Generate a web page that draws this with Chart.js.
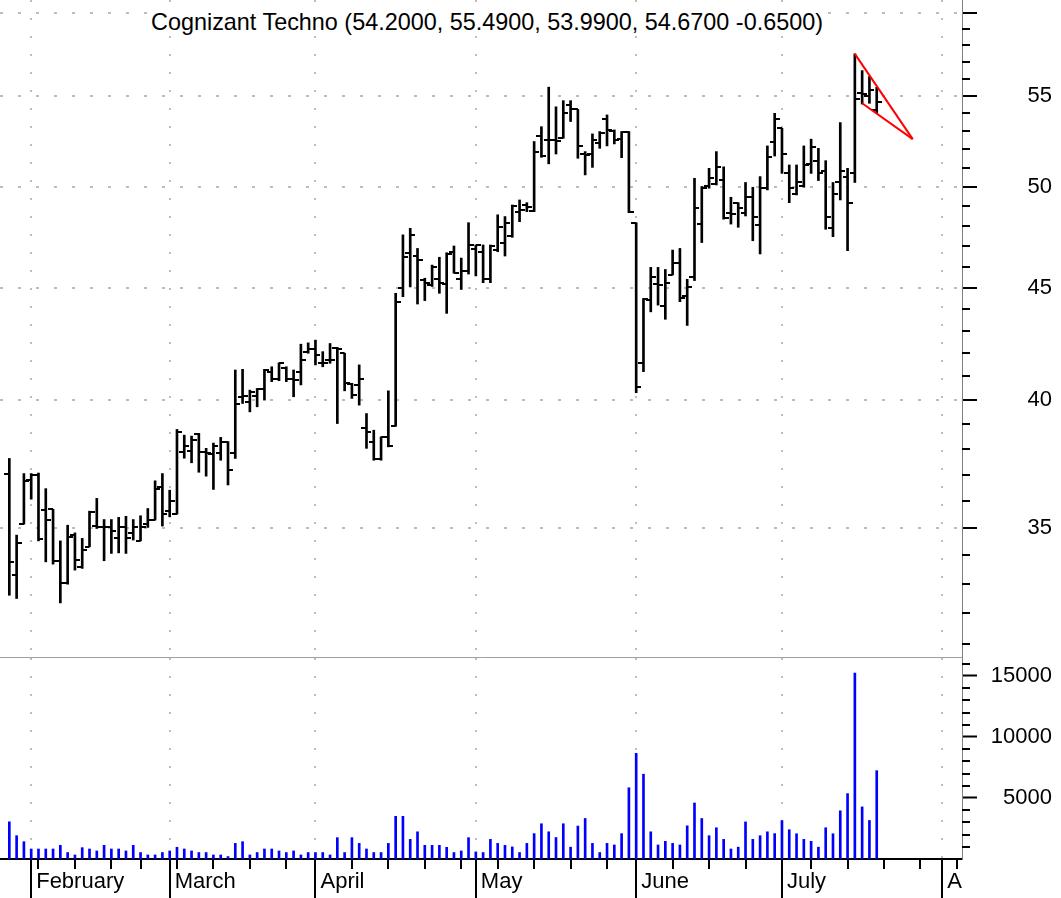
<!DOCTYPE html>
<html>
<head>
<meta charset="utf-8">
<script src="https://cdn.jsdelivr.net/npm/chart.js@4.4.0/dist/chart.umd.min.js"></script>
<style>
  body { margin: 0; background: #fff; }
  #wrap { position: relative; width: 1061px; height: 898px; overflow: hidden; }
  canvas { position: absolute; left: 0; }
  #price { top: 0; }
  #vol { top: 658px; }
  #title { position: absolute; left: 0; width: 974px; top: 7px; text-align: center;
           font: 23.4px 'Liberation Sans', Arial, sans-serif; line-height: 30px; color: #000; }
  #title span { background: #fff; padding: 0 3px; }
</style>
</head>
<body>
<div id="wrap">
  <canvas id="price" width="1061" height="658"></canvas>
  <canvas id="vol" width="1061" height="240"></canvas>
  <div id="title"><span>Cognizant Techno (54.2000, 55.4900, 53.9900, 54.6700 -0.6500)</span></div>
</div>
<script>
// daily bars, index 0 = 29 Jan 2002 ... index 119 = 19 Jul 2002
var open = [37.04, 33.30, 35.13, 36.79, 36.98, 35.65, 35.68, 33.81, 33.02, 34.73,
  33.60, 34.31, 35.06, 35.01, 35.01, 34.61, 35.01, 34.79, 34.52, 35.13,
  35.30, 36.52, 35.62, 35.50, 37.89, 37.92, 38.60, 37.89, 37.80, 37.85,
  38.28, 37.85, 40.11, 39.93, 40.17, 40.45, 41.21, 40.88, 41.36, 40.88,
  41.21, 42.08, 42.18, 41.57, 41.71, 42.25, 42.01, 40.68, 40.64, 38.83,
  38.29, 37.59, 38.49, 38.92, 44.96, 46.67, 46.50, 45.36, 45.13, 45.39,
  45.17, 46.72, 45.39, 45.80, 46.86, 46.72, 45.39, 46.80, 47.13, 47.49,
  48.70, 49.06, 48.77, 52.73, 52.52, 52.52, 52.61, 54.47, 54.22, 51.75,
  51.75, 52.37, 53.67, 53.03, 52.56, 52.93, 48.16, 41.57, 44.42, 45.17,
  44.14, 45.60, 46.18, 44.60, 45.49, 48.09, 50.02, 50.15, 50.36, 48.67,
  49.15, 48.64, 49.46, 48.04, 49.93, 52.43, 53.16, 50.75, 49.63, 50.05,
  51.22, 51.39, 50.85, 47.88, 50.23, 50.50, 50.75, 55.14, 54.99, 54.20];

var high = [37.63, 34.73, 37.04, 37.04, 37.06, 36.46, 35.68, 34.52, 35.09, 34.81,
  34.61, 35.61, 36.09, 35.30, 35.30, 35.38, 35.42, 35.30, 35.44, 35.71,
  36.76, 37.04, 36.40, 38.79, 38.56, 38.52, 38.63, 38.03, 38.24, 38.47,
  38.30, 41.28, 41.31, 40.42, 40.49, 41.31, 41.42, 41.59, 41.42, 41.28,
  42.41, 42.47, 42.59, 42.08, 42.44, 42.27, 42.01, 40.71, 41.50, 39.44,
  38.76, 38.49, 40.39, 44.73, 47.55, 47.88, 46.88, 45.44, 46.07, 46.45,
  46.67, 47.00, 46.41, 48.16, 47.05, 47.05, 47.05, 48.56, 48.47, 49.06,
  49.32, 49.18, 52.43, 53.25, 55.50, 54.37, 54.72, 54.72, 54.22, 51.88,
  52.85, 52.98, 53.91, 53.07, 52.98, 52.98, 48.16, 44.49, 45.96, 45.96,
  45.86, 46.80, 46.88, 45.39, 50.45, 50.02, 50.98, 51.88, 51.06, 49.46,
  49.18, 50.23, 49.98, 50.54, 52.19, 54.00, 53.16, 51.16, 51.16, 52.19,
  52.56, 52.06, 51.39, 50.23, 53.48, 50.98, 57.47, 56.47, 56.12, 55.49];

var low = [32.61, 32.50, 35.13, 36.06, 34.52, 33.77, 33.69, 32.35, 32.99, 33.48,
  33.54, 34.31, 34.97, 33.81, 34.07, 34.09, 34.07, 34.55, 34.52, 35.01,
  35.28, 35.06, 35.40, 35.50, 37.64, 37.46, 37.09, 36.94, 36.43, 37.56,
  36.60, 37.63, 39.86, 39.51, 39.72, 40.00, 40.78, 40.82, 40.78, 40.14,
  40.64, 42.01, 41.50, 41.42, 41.57, 39.03, 40.39, 40.07, 39.79, 38.03,
  37.56, 37.56, 38.09, 38.92, 44.57, 45.03, 44.23, 44.39, 45.05, 44.73,
  43.80, 45.68, 44.91, 45.64, 45.55, 45.23, 45.23, 46.72, 46.51, 47.43,
  48.21, 48.72, 48.72, 51.57, 51.22, 51.75, 52.61, 53.54, 51.52, 50.63,
  51.03, 52.06, 52.19, 52.30, 51.55, 48.67, 40.31, 41.21, 43.87, 44.18,
  43.53, 45.60, 44.34, 43.25, 45.33, 47.17, 49.93, 50.10, 48.34, 48.09,
  47.93, 48.50, 47.26, 46.61, 49.84, 51.64, 50.71, 49.18, 49.58, 49.98,
  50.71, 50.33, 47.83, 47.46, 49.32, 46.77, 50.23, 54.53, 54.57, 53.99];

var close = [33.77, 34.45, 36.75, 36.98, 34.59, 35.30, 33.81, 33.02, 34.65, 33.83,
  34.19, 35.59, 35.01, 35.03, 34.87, 35.01, 34.61, 35.01, 35.01, 35.28,
  36.43, 35.50, 36.00, 38.67, 38.11, 38.35, 37.88, 37.85, 38.11, 38.27,
  37.19, 39.83, 40.17, 40.35, 40.45, 41.28, 40.88, 41.57, 40.88, 40.85,
  41.71, 42.18, 41.93, 41.59, 41.71, 42.20, 40.71, 40.21, 40.88, 38.69,
  37.59, 38.49, 38.12, 44.34, 46.45, 47.55, 46.32, 45.23, 45.99, 45.20,
  46.61, 45.71, 45.80, 47.05, 47.05, 45.39, 47.00, 47.96, 48.16, 49.01,
  48.80, 48.98, 51.88, 51.64, 52.52, 52.45, 54.03, 54.22, 52.19, 51.70,
  52.52, 52.92, 53.07, 52.52, 52.93, 48.72, 40.56, 44.45, 45.51, 45.12,
  45.23, 46.18, 44.49, 45.03, 48.92, 49.93, 50.45, 51.06, 48.38, 48.62,
  48.90, 49.46, 48.43, 49.93, 51.57, 53.67, 51.75, 49.93, 50.23, 51.16,
  52.12, 50.75, 48.43, 49.63, 50.85, 49.15, 54.80, 55.10, 55.32, 54.67];

var volume = [3050, 1910, 1420, 820, 820, 820, 820, 1120, 530, 330,
  930, 820, 660, 1120, 820, 820, 660, 1120, 530, 330,
  330, 530, 660, 960, 820, 660, 530, 530, 330, 330,
  200, 1280, 1420, 330, 530, 820, 820, 660, 530, 660,
  330, 530, 530, 530, 330, 1750, 530, 1750, 1280, 820,
  530, 530, 1280, 3500, 3500, 1610, 2230, 1120, 1120, 1120,
  960, 530, 660, 1750, 580, 530, 1610, 1280, 1120, 990,
  530, 1280, 2080, 2890, 2230, 1760, 2890, 970, 2700, 3320,
  1280, 530, 1280, 1150, 2080, 5840, 8660, 6950, 2230, 1150,
  1450, 1280, 1150, 2720, 4590, 3320, 1910, 2560, 1610, 820,
  970, 3040, 1610, 1910, 2230, 2080, 3150, 2400, 2070, 1610,
  1450, 970, 2560, 2070, 3950, 5360, 15240, 4270, 3160, 7240];

var monthStarts = [3, 22, 42, 64, 86, 106, 128];
var monthNames = ['February', 'March', 'April', 'May', 'June', 'July', 'August'];
var weekStarts = [4, 9, 14, 18, 23, 28, 33, 38, 47, 52, 57, 62, 67, 72, 77, 82,
  91, 96, 101, 110, 115, 120, 125, 130];
var priceTicks = [35, 40, 45, 50, 55, 60];
var volumeTicks = [5000, 10000, 15000];

// red flag drawn on the last bars: [day index, price]
var flagTop = [[116, 57.47], [123.94, 52.56]];
var flagBottom = [[117, 54.57], [123.94, 52.56]];

var xMin = -1.28, xMax = 130.7;
var gridGray = '#bdbdbd';

Chart.defaults.font.family = "'Liberation Sans', Arial, sans-serif";
Chart.defaults.font.size = 22;
Chart.defaults.color = '#000';

var idx = open.map(function(v, i) { return i; });

var priceMinor = [], volMinor = [];
for (var p = 31; p < 60; p++) if (p % 5) priceMinor.push(p);
for (var q = 1000; q <= 16000; q += 1000) if (q % 5000) volMinor.push(q);

var xTicks = monthStarts.concat(weekStarts).sort(function(a, b) { return a - b; });

function tickImage(side) {
  var c = document.createElement('canvas');
  c.width = 10; c.height = 2;
  var g = c.getContext('2d');
  g.fillStyle = '#000';
  g.fillRect(side == 'left' ? 0 : 5, 0, 5, 2);
  return c;
}

var minorTicks = {
  id: 'minorTicks',
  afterDraw: function(chart, args, opts) {
    var s = chart.scales.y, ctx = chart.ctx;
    ctx.save();
    ctx.strokeStyle = '#000';
    ctx.lineWidth = 2;
    ctx.beginPath();
    opts.values.forEach(function(v) {
      var y = Math.round(s.getPixelForValue(v));
      ctx.moveTo(s.left, y);
      ctx.lineTo(s.left + 8, y);
    });
    ctx.stroke();
    ctx.restore();
  }
};

var monthLines = {
  id: 'monthLines',
  afterDraw: function(chart) {
    var s = chart.scales.x, ctx = chart.ctx;
    ctx.save();
    ctx.strokeStyle = '#000';
    ctx.lineWidth = 2;
    ctx.beginPath();
    monthStarts.forEach(function(v) {
      var x = Math.round(s.getPixelForValue(v));
      ctx.moveTo(x, s.top);
      ctx.lineTo(x, chart.height);
    });
    ctx.stroke();
    ctx.restore();
  }
};

new Chart(document.getElementById('price'), {
  type: 'bar',
  data: {
    datasets: [
      {
        type: 'line', order: -1,
        data: flagTop.map(function(d) { return {x: d[0], y: d[1]}; }),
        borderColor: '#ff0000', borderWidth: 2, pointRadius: 0
      },
      {
        type: 'line', order: -1,
        data: flagBottom.map(function(d) { return {x: d[0], y: d[1]}; }),
        borderColor: '#ff0000', borderWidth: 2, pointRadius: 0
      },
      {
        type: 'bar',
        data: idx.map(function(i) { return {x: i, y: [low[i], high[i]]}; }),
        backgroundColor: '#000', borderWidth: 0, barThickness: 2
      },
      {
        type: 'scatter',
        data: idx.map(function(i) { return {x: i, y: open[i]}; }),
        pointStyle: tickImage('left'), pointRadius: 5
      },
      {
        type: 'scatter',
        data: idx.map(function(i) { return {x: i, y: close[i]}; }),
        pointStyle: tickImage('right'), pointRadius: 5
      }
    ]
  },
  options: {
    responsive: false,
    animation: false,
    events: [],
    layout: { padding: { left: 0, top: 0, bottom: 0, right: 9 }, autoPadding: false },
    plugins: {
      legend: { display: false },
      tooltip: { enabled: false },
      minorTicks: { values: priceMinor }
    },
    scales: {
      x: {
        type: 'linear', min: xMin, max: xMax, offset: false,
        grid: { offset: false, color: gridGray, lineWidth: 2, drawTicks: false },
        border: { display: true, color: '#a0a0a0', width: 1, dash: [2, 16] },
        ticks: { display: false },
        afterBuildTicks: function(s) { s.ticks = monthStarts.map(function(v) { return {value: v}; }); },
        afterFit: function(s) { s.height = 1; s.paddingLeft = 0; s.paddingRight = 0; }
      },
      y: {
        type: 'logarithmic', position: 'right', min: 30.57, max: 60.8,
        grid: { color: gridGray, lineWidth: 2, tickLength: 15, tickColor: '#000', tickWidth: 2 },
        border: { color: '#808080', width: 1, dash: [3, 15] },
        ticks: {
          crossAlign: 'far', padding: 8, autoSkip: false,
          callback: function(v) { return v === 60 ? '' : String(v); }
        },
        afterBuildTicks: function(s) { s.ticks = priceTicks.map(function(v) { return {value: v}; }); },
        afterFit: function(s) { s.width = 90; s.paddingTop = 0; s.paddingBottom = 0; }
      }
    }
  },
  plugins: [minorTicks]
});

new Chart(document.getElementById('vol'), {
  type: 'bar',
  data: {
    datasets: [{
      data: idx.map(function(i) { return {x: i, y: volume[i]}; }),
      backgroundColor: '#0000ff', borderWidth: 0, barThickness: 2
    }]
  },
  options: {
    responsive: false,
    animation: false,
    events: [],
    layout: { padding: { left: 0, top: 0, bottom: 0, right: 9 }, autoPadding: false },
    plugins: {
      legend: { display: false },
      tooltip: { enabled: false },
      minorTicks: { values: volMinor }
    },
    scales: {
      x: {
        type: 'linear', min: xMin, max: xMax, offset: false,
        grid: {
          offset: false, lineWidth: 2, tickLength: 10, tickColor: '#000', tickWidth: 2,
          color: function(c) {
            return c.tick && monthStarts.indexOf(c.tick.value) >= 0 ? gridGray : 'rgba(0,0,0,0)';
          }
        },
        border: { color: '#000', width: 2, dash: [2, 16] },
        ticks: {
          align: 'start', labelOffset: 5, padding: 0, autoSkip: false, maxRotation: 0,
          callback: function(v) {
            var k = monthStarts.indexOf(v);
            return k < 0 ? '' : monthNames[k];
          }
        },
        afterBuildTicks: function(s) { s.ticks = xTicks.map(function(v) { return {value: v}; }); },
        afterFit: function(s) { s.height = 39; s.paddingLeft = 0; s.paddingRight = 0; },
        afterUpdate: function(s) {
          // labels stop at the price axis, like the original
          s._computeLabelArea = function() {
            return {top: s.top, left: 0, bottom: s.bottom, right: s.right};
          };
        }
      },
      y: {
        position: 'right', min: 0, max: 16475,
        grid: { drawOnChartArea: false, tickLength: 15, tickColor: '#000', tickWidth: 2 },
        border: { color: '#808080', width: 1 },
        ticks: { crossAlign: 'far', padding: 6, autoSkip: false, callback: function(v) { return String(v); } },
        afterBuildTicks: function(s) { s.ticks = volumeTicks.map(function(v) { return {value: v}; }); },
        afterFit: function(s) { s.width = 90; s.paddingTop = 0; s.paddingBottom = 0; }
      }
    }
  },
  plugins: [minorTicks, monthLines]
});
</script>
</body>
</html>
